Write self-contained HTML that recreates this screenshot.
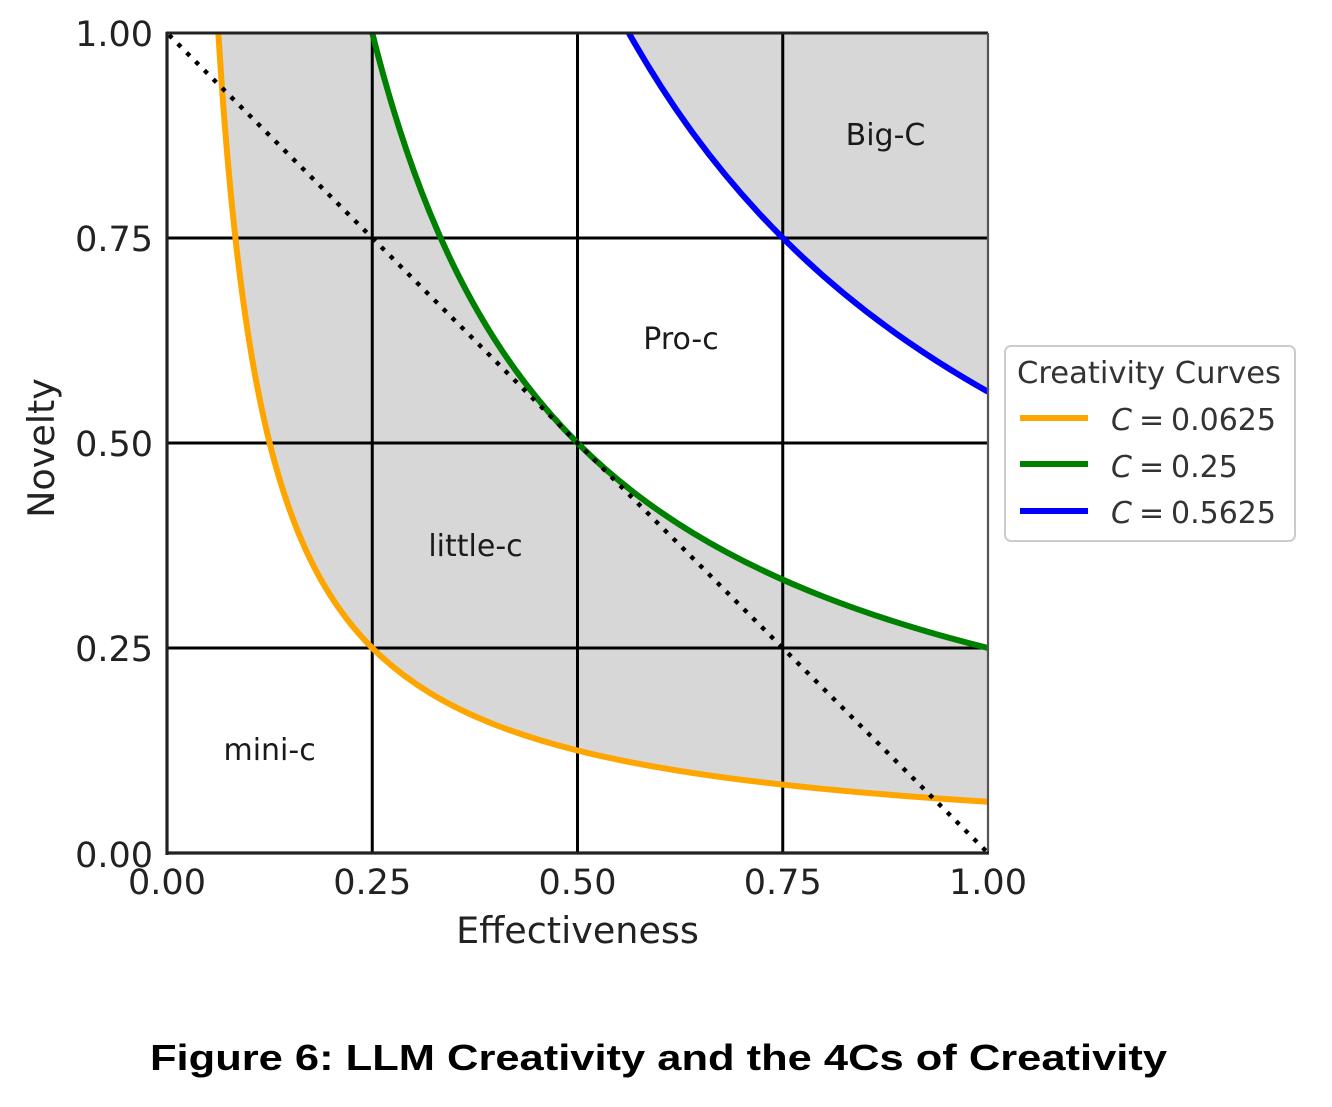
<!DOCTYPE html>
<html>
<head>
<meta charset="utf-8">
<style>
  html, body { margin: 0; padding: 0; background: #ffffff; }
  svg { display: block; }
</style>
</head>
<body>
<svg width="1332" height="1107" viewBox="0 0 1332 1107" xmlns="http://www.w3.org/2000/svg">
  <rect x="0" y="0" width="1332" height="1107" fill="#ffffff"/>

  <!-- Data area: x 167..988, y 853..33 -->
  <g transform="translate(167,853) scale(821,-820)">
    <!-- gray fill between orange and green -->
    <path fill="#d7d7d7" stroke="none" d="M0.0625,1
      C0.0683333,0.906667 0.0741667,0.838216 0.08,0.78125
      C0.0866667,0.716146 0.0933333,0.666667 0.1,0.625
      C0.1083333,0.572917 0.1166667,0.533333 0.125,0.5
      C0.1366667,0.453333 0.1483333,0.419108 0.16,0.390625
      C0.1733333,0.358073 0.1866667,0.333333 0.2,0.3125
      C0.2166667,0.286458 0.2333333,0.266667 0.25,0.25
      C0.2733333,0.226667 0.2966667,0.209554 0.32,0.1953125
      C0.3466667,0.179036 0.3733333,0.166667 0.4,0.15625
      C0.4333333,0.143229 0.4666667,0.133333 0.5,0.125
      C0.5466667,0.113333 0.5933333,0.104777 0.64,0.09765625
      C0.6933333,0.089518 0.7466667,0.083333 0.8,0.078125
      C0.8666667,0.071615 0.9333333,0.066667 1,0.0625
      L1,0.25
      C0.9333333,0.266667 0.8666667,0.286458 0.8,0.3125
      C0.7466667,0.333333 0.6933333,0.358073 0.64,0.390625
      C0.5933333,0.419108 0.5466667,0.453333 0.5,0.5
      C0.4666667,0.533333 0.4333333,0.572917 0.4,0.625
      C0.3733333,0.666667 0.3466667,0.716146 0.32,0.78125
      C0.2966667,0.838216 0.2733333,0.906667 0.25,1 Z"/>
    <!-- gray fill above blue -->
    <path fill="#d7d7d7" stroke="none" d="M0.5625,1
      C0.615,0.906667 0.6675,0.838216 0.72,0.78125
      C0.78,0.716146 0.84,0.666667 0.9,0.625
      C0.9333333,0.601852 0.9666667,0.58125 1,0.5625
      L1,1 Z"/>
  </g>

  <!-- grid lines -->
  <g stroke="#000000" stroke-width="3">
    <line x1="372.25" y1="33" x2="372.25" y2="853"/>
    <line x1="577.5" y1="33" x2="577.5" y2="853"/>
    <line x1="782.75" y1="33" x2="782.75" y2="853"/>
    <line x1="167" y1="238" x2="988" y2="238"/>
    <line x1="167" y1="443" x2="988" y2="443"/>
    <line x1="167" y1="648" x2="988" y2="648"/>
  </g>

  <!-- curves -->
  <g transform="translate(167,853) scale(821,-820)" fill="none" stroke-linejoin="round">
    <path vector-effect="non-scaling-stroke" stroke="#FFA500" stroke-width="6" d="M0.0625,1
      C0.0683333,0.906667 0.0741667,0.838216 0.08,0.78125
      C0.0866667,0.716146 0.0933333,0.666667 0.1,0.625
      C0.1083333,0.572917 0.1166667,0.533333 0.125,0.5
      C0.1366667,0.453333 0.1483333,0.419108 0.16,0.390625
      C0.1733333,0.358073 0.1866667,0.333333 0.2,0.3125
      C0.2166667,0.286458 0.2333333,0.266667 0.25,0.25
      C0.2733333,0.226667 0.2966667,0.209554 0.32,0.1953125
      C0.3466667,0.179036 0.3733333,0.166667 0.4,0.15625
      C0.4333333,0.143229 0.4666667,0.133333 0.5,0.125
      C0.5466667,0.113333 0.5933333,0.104777 0.64,0.09765625
      C0.6933333,0.089518 0.7466667,0.083333 0.8,0.078125
      C0.8666667,0.071615 0.9333333,0.066667 1,0.0625"/>
    <path vector-effect="non-scaling-stroke" stroke="#008000" stroke-width="6" d="M0.25,1
      C0.2733333,0.906667 0.2966667,0.838216 0.32,0.78125
      C0.3466667,0.716146 0.3733333,0.666667 0.4,0.625
      C0.4333333,0.572917 0.4666667,0.533333 0.5,0.5
      C0.5466667,0.453333 0.5933333,0.419108 0.64,0.390625
      C0.6933333,0.358073 0.7466667,0.333333 0.8,0.3125
      C0.8666667,0.286458 0.9333333,0.266667 1,0.25"/>
    <path vector-effect="non-scaling-stroke" stroke="#0000FF" stroke-width="6" d="M0.5625,1
      C0.615,0.906667 0.6675,0.838216 0.72,0.78125
      C0.78,0.716146 0.84,0.666667 0.9,0.625
      C0.9333333,0.601852 0.9666667,0.58125 1,0.5625"/>
  </g>

  <!-- dotted diagonal -->
  <line x1="169" y1="35" x2="988" y2="853" stroke="#000000" stroke-width="4.4" stroke-dasharray="4.4 8.1"/>

  <!-- spines -->
  <g fill="none">
    <line x1="166" y1="33" x2="988" y2="33" stroke="#222222" stroke-width="3"/>
    <line x1="988" y1="33" x2="988" y2="853" stroke="#555555" stroke-width="2.2"/>
    <line x1="166" y1="853" x2="989" y2="853" stroke="#222222" stroke-width="3.2"/>
    <line x1="167" y1="32" x2="167" y2="855" stroke="#222222" stroke-width="3.2"/>
  </g>

  <!-- region labels -->
  <g font-family="DejaVu Sans, Liberation Sans, sans-serif" font-size="30" fill="#1a1a1a" text-anchor="middle">
    <text x="885.5" y="145">Big-C</text>
    <text x="681" y="349">Pro-c</text>
    <text x="475.5" y="556">little-c</text>
    <text x="269.6" y="760">mini-c</text>
  </g>

  <!-- y tick labels -->
  <g font-family="DejaVu Sans, Liberation Sans, sans-serif" font-size="35" fill="#222222" text-anchor="end">
    <text x="153" y="46">1.00</text>
    <text x="153" y="251">0.75</text>
    <text x="153" y="456">0.50</text>
    <text x="153" y="661">0.25</text>
    <text x="153" y="867">0.00</text>
  </g>
  <!-- x tick labels -->
  <g font-family="DejaVu Sans, Liberation Sans, sans-serif" font-size="35" fill="#222222" text-anchor="middle">
    <text x="167" y="894">0.00</text>
    <text x="372.25" y="894">0.25</text>
    <text x="577.5" y="894">0.50</text>
    <text x="782.75" y="894">0.75</text>
    <text x="988" y="894">1.00</text>
  </g>

  <!-- axis labels -->
  <text x="577.5" y="943" font-family="DejaVu Sans, Liberation Sans, sans-serif" font-size="36.5" fill="#222222" text-anchor="middle">Effectiveness</text>
  <text transform="translate(54,448) rotate(-90)" x="0" y="0" font-family="DejaVu Sans, Liberation Sans, sans-serif" font-size="36.5" fill="#222222" text-anchor="middle">Novelty</text>

  <!-- legend -->
  <rect x="1005" y="346" width="290" height="195" rx="6" ry="6" fill="#ffffff" stroke="#cccccc" stroke-width="2"/>
  <text x="1017" y="383" font-family="DejaVu Sans, Liberation Sans, sans-serif" font-size="30.5" fill="#333333" textLength="264" lengthAdjust="spacingAndGlyphs">Creativity Curves</text>
  <line x1="1020" y1="418" x2="1088" y2="418" stroke="#FFA500" stroke-width="6"/>
  <line x1="1020" y1="464" x2="1088" y2="464" stroke="#008000" stroke-width="6"/>
  <line x1="1020" y1="511" x2="1088" y2="511" stroke="#0000FF" stroke-width="6"/>
  <g font-family="DejaVu Sans, Liberation Sans, sans-serif" font-size="30" fill="#333333">
    <text x="1111" y="430" font-style="italic">C</text>
    <text x="1139" y="430">=</text>
    <text x="1171" y="430">0.0625</text>
    <text x="1111" y="477" font-style="italic">C</text>
    <text x="1139" y="477">=</text>
    <text x="1171" y="477">0.25</text>
    <text x="1111" y="523" font-style="italic">C</text>
    <text x="1139" y="523">=</text>
    <text x="1171" y="523">0.5625</text>
  </g>

  <!-- caption -->
  <text x="150" y="1070" font-family="Liberation Sans, Arial, sans-serif" font-weight="bold" font-size="36" fill="#000000" textLength="1017" lengthAdjust="spacingAndGlyphs">Figure 6: LLM Creativity and the 4Cs of Creativity</text>
</svg>
</body>
</html>
